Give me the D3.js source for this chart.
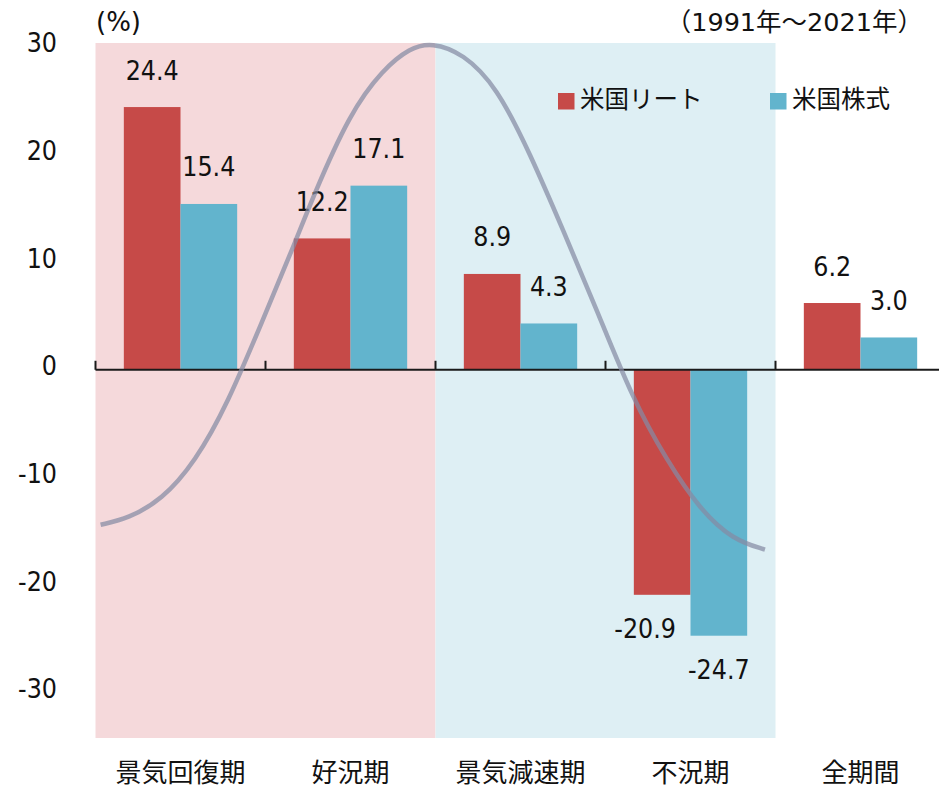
<!DOCTYPE html>
<html lang="ja">
<head>
<meta charset="utf-8">
<script src="https://cdn.jsdelivr.net/npm/d3@7"></script>
<style>
  html, body { margin: 0; padding: 0; background: #fff; }
  svg { display: block; }
  .num { font-family: "DejaVu Sans", "Noto Sans CJK JP", sans-serif; }
  .jp { font-family: "Noto Sans CJK JP", "DejaVu Sans", sans-serif; }
</style>
</head>
<body>
<svg id="chart" width="939" height="788"></svg>
<script>
// Average annual returns by business-cycle phase (%)
const categories = ["景気回復期", "好況期", "景気減速期", "不況期", "全期間"];
const seriesNames = ["米国リート", "米国株式"];
const reitValues = [24.4, 12.2, 8.9, -20.9, 6.2];
const stockValues = [15.4, 17.1, 4.3, -24.7, 3.0];
const yTicks = [30, 20, 10, 0, -10, -20, -30];

// Illustrative business-cycle wave: position in category units, level in %
const cyclePos = [0.03, 0.193, 0.389, 0.585, 0.779, 0.978, 1.174, 1.272, 1.497, 1.691, 1.85, 1.978,
                  2.162, 2.36, 2.556, 2.75, 2.948, 3.162, 3.36, 3.556, 3.75, 3.938];
const cycleLevel = [-14.4, -13.8, -12.1, -8.6, -3.1, 4.4, 11.8, 15.8, 23.9, 27.9, 29.9, 30.4,
                    29.4, 26.3, 20.1, 13.0, 5.6, -2.8, -8.4, -13.0, -15.8, -16.7];

// Shaded phase regions (category index ranges)
const phaseRegions = [
  { from: 0, to: 2, fill: "#F5D9DB" },
  { from: 2, to: 4, fill: "#DEEFF4" }
];

const colors = ["#C64A48", "#62B4CD"];

const svg = d3.select("#chart");
const plotLeft = 95.5, plotRight = 945.5, plotTop = 43, plotBottom = 738;

const x0 = d3.scaleBand().domain(categories).range([plotLeft, plotRight]).padding(0);
const bw = x0.bandwidth();
const x1 = d3.scaleBand().domain([0, 1]).range([bw / 6, bw * 5 / 6]).padding(0);
const xPos = d3.scaleLinear().domain([0, categories.length]).range([plotLeft, plotRight]);
const y = d3.scaleLinear().domain([-34.2, 30.35]).range([plotBottom, plotTop]);

// Numbers are set in a slightly narrowed sans face
const NARROW = 0.9;
function placeNum(sel, fx, fy) {
  sel.attr("transform", (d, i) => `translate(${fx(d, i)},${fy(d, i)}) scale(${NARROW},1)`);
}

// Phase backgrounds
svg.append("g").selectAll("rect").data(phaseRegions).join("rect")
  .attr("x", d => xPos(d.from))
  .attr("width", d => xPos(d.to) - xPos(d.from))
  .attr("y", plotTop)
  .attr("height", plotBottom - plotTop)
  .attr("fill", d => d.fill);

// Bars
const rows = categories.map((c, i) => ({ cat: c, vals: [reitValues[i], stockValues[i]] }));
const groups = svg.append("g").selectAll("g").data(rows).join("g")
  .attr("transform", d => `translate(${x0(d.cat)},0)`);

groups.selectAll("rect").data(d => d.vals.map((v, k) => ({ v, k }))).join("rect")
  .attr("x", d => x1(d.k))
  .attr("width", x1.bandwidth())
  .attr("y", d => y(Math.max(0, d.v)))
  .attr("height", d => Math.abs(y(d.v) - y(0)))
  .attr("fill", d => colors[d.k]);

// Value labels
groups.selectAll("text").data(d => d.vals.map((v, k) => ({ v, k }))).join("text")
  .attr("class", "num")
  .attr("text-anchor", "middle")
  .attr("font-size", 26.5)
  .attr("fill", "#111")
  .call(placeNum,
    d => x1(d.k) + x1.bandwidth() / 2 + (d.v < 0 && d.k === 0 ? -17 : 0),
    d => d.v >= 0 ? y(d.v) - 27.5 : y(d.v) + 43.5)
  .text(d => d.v.toFixed(1));

// Zero axis with upward ticks at category boundaries
const axisG = svg.append("g");
axisG.append("line")
  .attr("x1", plotLeft).attr("x2", 939)
  .attr("y1", y(0)).attr("y2", y(0))
  .attr("stroke", "#1a1a1a").attr("stroke-width", 2);
axisG.selectAll("line.tick").data(d3.range(categories.length + 1)).join("line")
  .attr("class", "tick")
  .attr("x1", d => xPos(d)).attr("x2", d => xPos(d))
  .attr("y1", y(0)).attr("y2", y(0) - 9)
  .attr("stroke", "#1a1a1a").attr("stroke-width", 2);

// Y tick labels
svg.append("g").selectAll("text").data(yTicks).join("text")
  .attr("class", "num")
  .attr("text-anchor", "end")
  .attr("font-size", 26.5)
  .attr("fill", "#111")
  .call(placeNum, () => 57, d => y(d) + 5.7)
  .text(d => d);

// Category labels
svg.append("g").selectAll("text").data(categories).join("text")
  .attr("class", "jp")
  .attr("x", d => x0(d) + bw / 2)
  .attr("y", 782)
  .attr("text-anchor", "middle")
  .attr("font-size", 26)
  .attr("fill", "#111")
  .text(d => d);

// Business-cycle wave
const wave = d3.line()
  .x(d => xPos(d[0]))
  .y(d => y(d[1]))
  .curve(d3.curveBasis);
svg.append("path")
  .datum(cyclePos.map((p, i) => [p, cycleLevel[i]]))
  .attr("d", wave)
  .attr("fill", "none")
  .attr("stroke", "#858aa3")
  .attr("stroke-opacity", 0.72)
  .attr("stroke-width", 4.5);

// Legend
const legendX = [558, 770];
const legend = svg.append("g").selectAll("g").data(seriesNames).join("g")
  .attr("transform", (d, i) => `translate(${legendX[i]},93)`);
legend.append("rect").attr("width", 16.5).attr("height", 16.5).attr("fill", (d, i) => colors[i]);
legend.append("text")
  .attr("class", "jp")
  .attr("x", 22).attr("y", 15)
  .attr("font-size", 24.5)
  .attr("fill", "#111")
  .text(d => d);

// Unit and period notes
svg.append("text").attr("class", "num")
  .attr("x", 96).attr("y", 31)
  .attr("font-size", 26).attr("fill", "#111")
  .text("(%)");
svg.append("text").attr("class", "num")
  .attr("x", 923).attr("y", 31)
  .attr("text-anchor", "end")
  .attr("font-size", 25.5).attr("fill", "#111")
  .text("（1991年～2021年）");
</script>
</body>
</html>
